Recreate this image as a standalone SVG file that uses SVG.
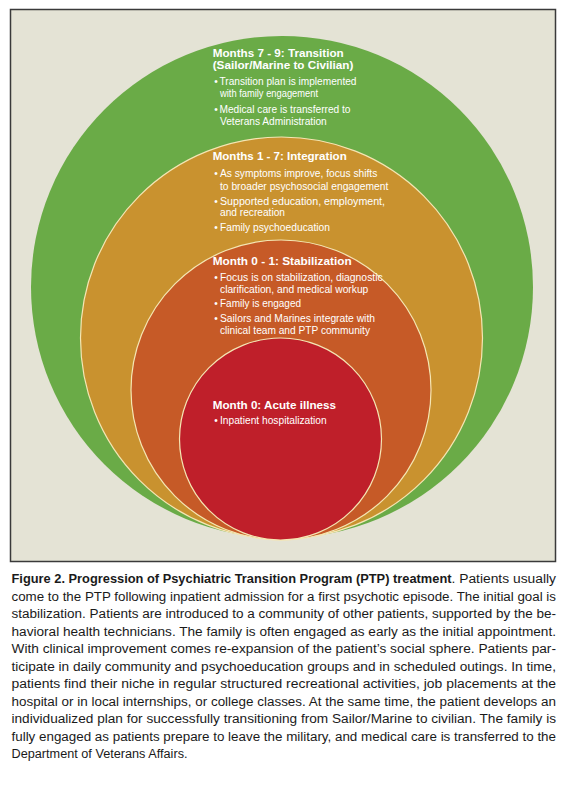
<svg xmlns="http://www.w3.org/2000/svg" width="564" height="800" viewBox="0 0 564 800">
<style>
.hd{font-family:"Liberation Sans",Arial,sans-serif;font-weight:bold;font-size:11.5px;fill:#ffffff}
.bl{font-family:"Liberation Sans",Arial,sans-serif;font-size:10px;fill:#ffffff}
.cap{font-family:"Liberation Sans",Arial,sans-serif;font-size:12.5px;fill:#1a1a1a}
.capb{font-family:"Liberation Sans",Arial,sans-serif;font-size:12.5px;font-weight:bold;fill:#1a1a1a}
.ring{stroke:#f4e6b4;stroke-width:1.2}
</style>
<rect x="0" y="0" width="564" height="800" fill="#ffffff"/>
<rect id="panel" x="10.5" y="9.5" width="545" height="552" fill="#e4e3d5" stroke="#3a3a3a" stroke-width="1.5"/>
<g id="connectors"></g>
<g id="transition">
<circle cx="282" cy="287" r="251" fill="#6aab47"/>
<text class="hd" x="212.7" y="56.5" textLength="131" lengthAdjust="spacingAndGlyphs">Months 7 - 9: Transition</text>
<text class="hd" x="212.7" y="69" textLength="140.7" lengthAdjust="spacingAndGlyphs">(Sailor/Marine to Civilian)</text>
<text class="bl" x="214.2" y="85">•</text>
<text class="bl" x="219.5" y="85" textLength="137" lengthAdjust="spacingAndGlyphs">Transition plan is implemented</text>
<text class="bl" x="220" y="96.5" textLength="98" lengthAdjust="spacingAndGlyphs">with family engagement</text>
<text class="bl" x="214.2" y="112.5">•</text>
<text class="bl" x="219.5" y="112.5" textLength="131" lengthAdjust="spacingAndGlyphs">Medical care is transferred to</text>
<text class="bl" x="220" y="125" textLength="106.7" lengthAdjust="spacingAndGlyphs">Veterans Administration</text>
</g>
<g id="integration">
<circle class="ring" cx="281.5" cy="338" r="201" fill="#c9922f"/>
<text class="hd" x="212.7" y="160" textLength="134" lengthAdjust="spacingAndGlyphs">Months 1 - 7: Integration</text>
<text class="bl" x="214.2" y="176.8">•</text>
<text class="bl" x="220" y="176.8" textLength="157.3" lengthAdjust="spacingAndGlyphs">As symptoms improve, focus shifts</text>
<text class="bl" x="220" y="189.5" textLength="168.3" lengthAdjust="spacingAndGlyphs">to broader psychosocial engagement</text>
<text class="bl" x="214.2" y="204.5">•</text>
<text class="bl" x="220" y="204.5" textLength="165" lengthAdjust="spacingAndGlyphs">Supported education, employment,</text>
<text class="bl" x="220" y="216.2" textLength="65" lengthAdjust="spacingAndGlyphs">and recreation</text>
<text class="bl" x="214.2" y="230.8">•</text>
<text class="bl" x="220" y="230.8" textLength="110" lengthAdjust="spacingAndGlyphs">Family psychoeducation</text>
</g>
<g id="stabilization">
<circle class="ring" cx="281" cy="390" r="150" fill="#c65a27"/>
<text class="hd" x="212.7" y="264.5" textLength="139" lengthAdjust="spacingAndGlyphs">Month 0 - 1: Stabilization</text>
<text class="bl" x="214.2" y="280.8">•</text>
<text class="bl" x="220" y="280.8" textLength="162.7" lengthAdjust="spacingAndGlyphs">Focus is on stabilization, diagnostic</text>
<text class="bl" x="220" y="292.5" textLength="148.3" lengthAdjust="spacingAndGlyphs">clarification, and medical workup</text>
<text class="bl" x="214.2" y="306.8">•</text>
<text class="bl" x="220" y="306.8" textLength="81" lengthAdjust="spacingAndGlyphs">Family is engaged</text>
<text class="bl" x="214.2" y="321.8">•</text>
<text class="bl" x="220" y="321.8" textLength="155" lengthAdjust="spacingAndGlyphs">Sailors and Marines integrate with</text>
<text class="bl" x="220" y="334.2" textLength="150" lengthAdjust="spacingAndGlyphs">clinical team and PTP community</text>
</g>
<g id="acute">
<circle class="ring" cx="280.5" cy="439" r="101" fill="#bf1f2a"/>
<text class="hd" x="212.7" y="409" textLength="123.3" lengthAdjust="spacingAndGlyphs">Month 0: Acute illness</text>
<text class="bl" x="214.2" y="424.2">•</text>
<text class="bl" x="220" y="424.2" textLength="106.7" lengthAdjust="spacingAndGlyphs">Inpatient hospitalization</text>
</g>
<g id="caption">
<text class="capb" x="11.5" y="583.3" textLength="440" lengthAdjust="spacingAndGlyphs">Figure 2. Progression of Psychiatric Transition Program (PTP) treatment</text>
<text class="cap" x="451.5" y="583.3" textLength="104.5" lengthAdjust="spacingAndGlyphs">. Patients usually</text>
<text class="cap" x="11.5" y="600.8" textLength="544.5" lengthAdjust="spacingAndGlyphs">come to the PTP following inpatient admission for a first psychotic episode. The initial goal is</text>
<text class="cap" x="11.5" y="618.3" textLength="544.5" lengthAdjust="spacingAndGlyphs">stabilization. Patients are introduced to a community of other patients, supported by the be-</text>
<text class="cap" x="11.5" y="635.8" textLength="544.5" lengthAdjust="spacingAndGlyphs">havioral health technicians. The family is often engaged as early as the initial appointment.</text>
<text class="cap" x="11.5" y="653.3" textLength="544.5" lengthAdjust="spacingAndGlyphs">With clinical improvement comes re-expansion of the patient’s social sphere. Patients par-</text>
<text class="cap" x="11.5" y="670.8" textLength="544.5" lengthAdjust="spacingAndGlyphs">ticipate in daily community and psychoeducation groups and in scheduled outings. In time,</text>
<text class="cap" x="11.5" y="688.3" textLength="544.5" lengthAdjust="spacingAndGlyphs">patients find their niche in regular structured recreational activities, job placements at the</text>
<text class="cap" x="11.5" y="705.8" textLength="544.5" lengthAdjust="spacingAndGlyphs">hospital or in local internships, or college classes. At the same time, the patient develops an</text>
<text class="cap" x="11.5" y="723.3" textLength="544.5" lengthAdjust="spacingAndGlyphs">individualized plan for successfully transitioning from Sailor/Marine to civilian. The family is</text>
<text class="cap" x="11.5" y="740.8" textLength="544.5" lengthAdjust="spacingAndGlyphs">fully engaged as patients prepare to leave the military, and medical care is transferred to the</text>
<text class="cap" x="11.5" y="758.3" textLength="176" lengthAdjust="spacingAndGlyphs">Department of Veterans Affairs.</text>
</g>
</svg>
